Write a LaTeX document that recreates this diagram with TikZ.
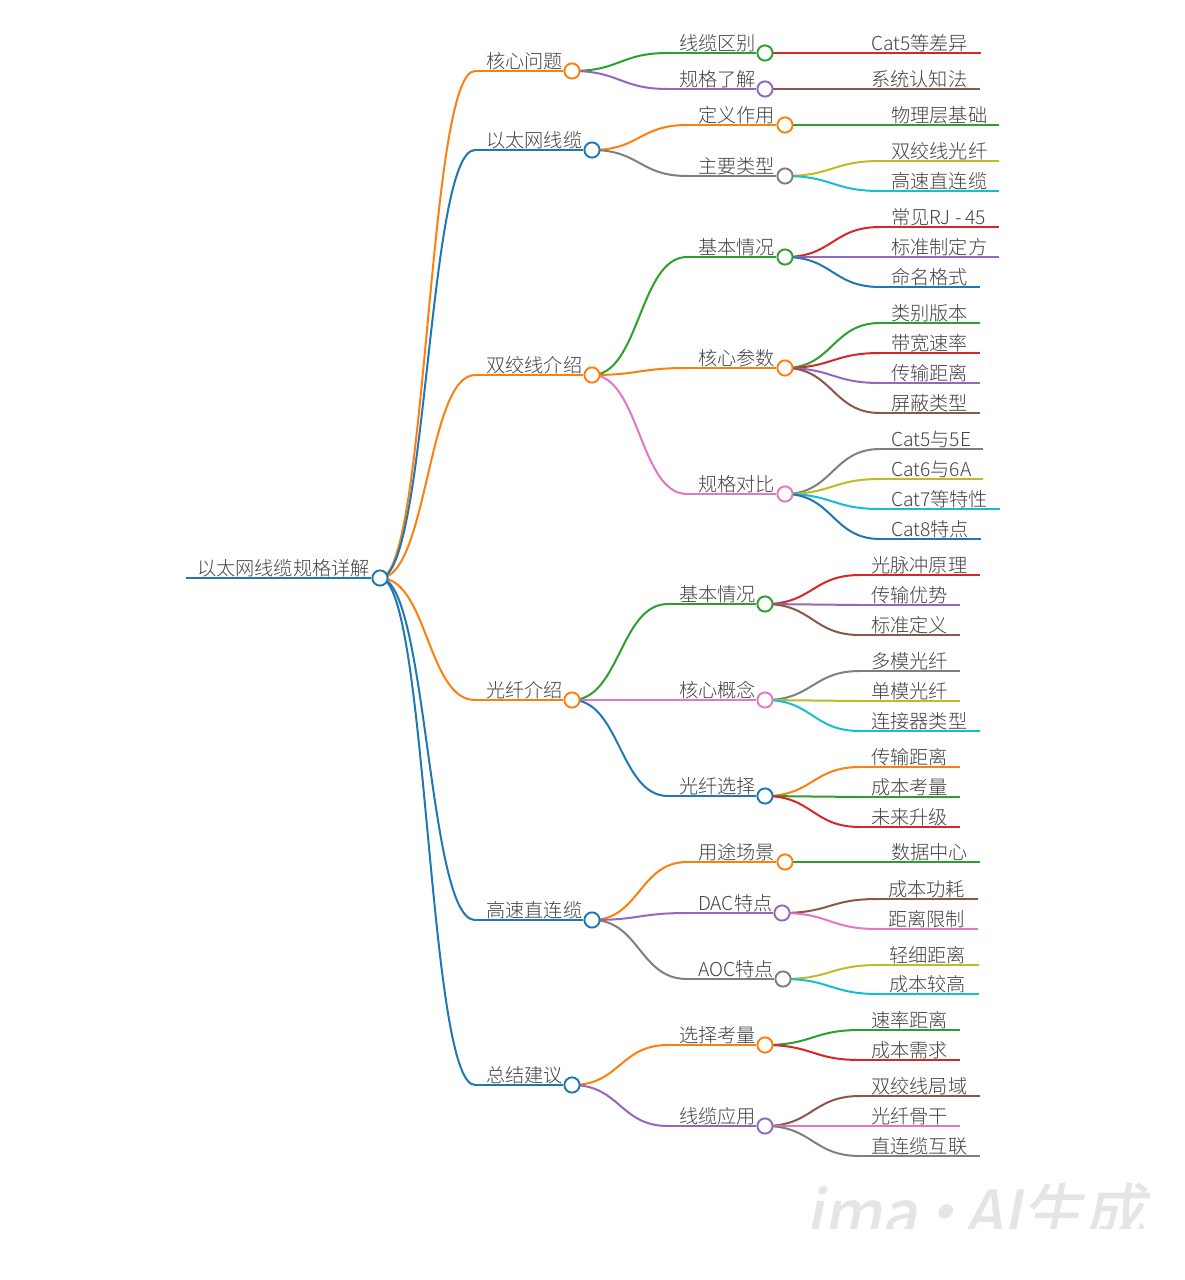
\documentclass[tikz,border=0pt]{standalone}
\usepackage{fontspec}
\setmainfont{Noto Sans CJK SC}[UprightFont=* Light]
\newfontfamily\markfont{Noto Sans CJK SC}[UprightFont=* Medium,FakeSlant=0.2]
\usetikzlibrary{calc}
\pgfdeclarelayer{ties}
\pgfsetlayers{ties,main}
\definecolor{mapblue}{HTML}{1F77B4}
\definecolor{maporange}{HTML}{FF7F0E}
\definecolor{mapgreen}{HTML}{2CA02C}
\definecolor{mapred}{HTML}{D62728}
\definecolor{mappurple}{HTML}{9467BD}
\definecolor{mapbrown}{HTML}{8C564B}
\definecolor{mappink}{HTML}{E377C2}
\definecolor{mapgray}{HTML}{7F7F7F}
\definecolor{mapolive}{HTML}{BCBD22}
\definecolor{mapcyan}{HTML}{17BECF}
\tikzset{
  knob/.style={circle,draw=#1,fill=white,line width=1.9pt,minimum size=15.2pt,inner sep=0pt},
  maptext/.style={anchor=base west,inner sep=0pt,text=black!75,font=\fontsize{19.2}{19.2}\selectfont},
  stem/.style={line width=2pt,#1},
}
\begin{document}
\begin{tikzpicture}[x=1pt,y=-1pt]
  \useasboundingbox (0,0) rectangle (1185,1280);
  % root
  \coordinate (rootstart) at (186,578);
  \node[knob=mapblue] (root) at (380,578) {};
  \draw[stem=mapblue] (rootstart)--(root.west);
  \node[maptext] (roottext) at (196.8,575.6) {以太网线缆规格详解};
  % name/parent/text x/y/knob or end x/kind/colour/text
  \foreach \nm/\up/\tx/\ly/\ex/\kind/\col/\txt in {
    core/root/486/71/572/k/maporange/核心问题,
    eth/root/486/150/592/k/mapblue/以太网线缆,
    twist/root/486/375/592/k/maporange/双绞线介绍,
    fibre/root/486/700/572/k/maporange/光纤介绍,
    dac/root/486/920/592/k/mapblue/高速直连缆,
    sum/root/486/1085/572/k/mapblue/总结建议,
    corea/core/679/53/765/k/mapgreen/线缆区别,
    coreb/core/679/89/765/k/mappurple/规格了解,
    etha/eth/698/125/785/k/maporange/定义作用,
    ethb/eth/698/176/785/k/mapgray/主要类型,
    twista/twist/698/257/785/k/mapgreen/基本情况,
    twistb/twist/698/368/785/k/maporange/核心参数,
    twistc/twist/698/494/785/k/mappink/规格对比,
    fibrea/fibre/679/604/765/k/mapgreen/基本情况,
    fibreb/fibre/679/700/765/k/mappink/核心概念,
    fibrec/fibre/679/796/765/k/mapblue/光纤选择,
    daca/dac/698/862/785/k/maporange/用途场景,
    dacb/dac/698/913/782/k/mappurple/DAC特点,
    dacc/dac/698/979/783/k/mapgray/AOC特点,
    suma/sum/679/1045/765/k/maporange/选择考量,
    sumb/sum/679/1126/765/k/mappurple/线缆应用,
    corea1/corea/871/53/981/e/mapred/Cat5等差异,
    coreb1/coreb/871/89/980/e/mapbrown/系统认知法,
    etha1/etha/891/125/999/e/mapgreen/物理层基础,
    ethb1/ethb/891/161/999/e/mapolive/双绞线光纤,
    ethb2/ethb/891/191/999/e/mapcyan/高速直连缆,
    twista1/twista/891/227/999/e/mapred/常见RJ - 45,
    twista2/twista/891/257/999/e/mappurple/标准制定方,
    twista3/twista/891/287/980/e/mapblue/命名格式,
    twistb1/twistb/891/323/980/e/mapgreen/类别版本,
    twistb2/twistb/891/353/980/e/mapred/带宽速率,
    twistb3/twistb/891/383/980/e/mappurple/传输距离,
    twistb4/twistb/891/413/980/e/mapbrown/屏蔽类型,
    twistc1/twistc/891/449/983/e/mapgray/Cat5与5E,
    twistc2/twistc/891/479/983/e/mapolive/Cat6与6A,
    twistc3/twistc/891/509/1000/e/mapcyan/Cat7等特性,
    twistc4/twistc/891/539/981/e/mapblue/Cat8特点,
    fibrea1/fibrea/871/575/980/e/mapred/光脉冲原理,
    fibrea2/fibrea/871/605/960/e/mappurple/传输优势,
    fibrea3/fibrea/871/635/960/e/mapbrown/标准定义,
    fibreb1/fibreb/871/671/960/e/mapgray/多模光纤,
    fibreb2/fibreb/871/701/960/e/mapolive/单模光纤,
    fibreb3/fibreb/871/731/980/e/mapcyan/连接器类型,
    fibrec1/fibrec/871/767/960/e/maporange/传输距离,
    fibrec2/fibrec/871/797/960/e/mapgreen/成本考量,
    fibrec3/fibrec/871/827/960/e/mapred/未来升级,
    daca1/daca/891/862/980/e/mapgreen/数据中心,
    dacb1/dacb/888/899/978/e/mapbrown/成本功耗,
    dacb2/dacb/888/929/978/e/mappink/距离限制,
    dacc1/dacc/889/965/979/e/mapolive/轻细距离,
    dacc2/dacc/889/994/979/e/mapcyan/成本较高,
    suma1/suma/871/1030/960/e/mapgreen/速率距离,
    suma2/suma/871/1060/960/e/mapred/成本需求,
    sumb1/sumb/871/1096/980/e/mapbrown/双绞线局域,
    sumb2/sumb/871/1126/960/e/mappink/光纤骨干,
    sumb3/sumb/871/1156/980/e/mapgray/直连缆互联%
  }{
    \coordinate (\nm start) at (\tx-11,\ly);
    \node[maptext] (\nm text) at (\tx,\ly-2.4) {\txt};
    \if\kind k
      \node[knob=\col] (\nm) at (\ex,\ly) {};
      \draw[stem=\col] (\nm start)--(\nm.west);
    \else
      \coordinate (\nm) at (\ex,\ly);
      \draw[stem=\col] (\nm start)--(\nm);
    \fi
    \begin{pgfonlayer}{ties}
      \draw[stem=\col] let \p1=(\up.center), \p2=(\nm start), \n1={(\x1+\x2)/2} in
        (\p1) .. controls (\n1,\y1) and (\n1,\y2) .. (\p2);
    \end{pgfonlayer}
  }
  % watermark, cut at the bottom
  \begin{scope}
    \clip (780,1170) rectangle (1185,1228);
    \node[anchor=base west,inner sep=0pt,text=black!10,font=\markfont\fontsize{62}{62}\selectfont] (mark) at (805,1235) {ima\hspace{-7pt}·\hspace{-8pt}AI生成};
  \end{scope}
\end{tikzpicture}
\end{document}
